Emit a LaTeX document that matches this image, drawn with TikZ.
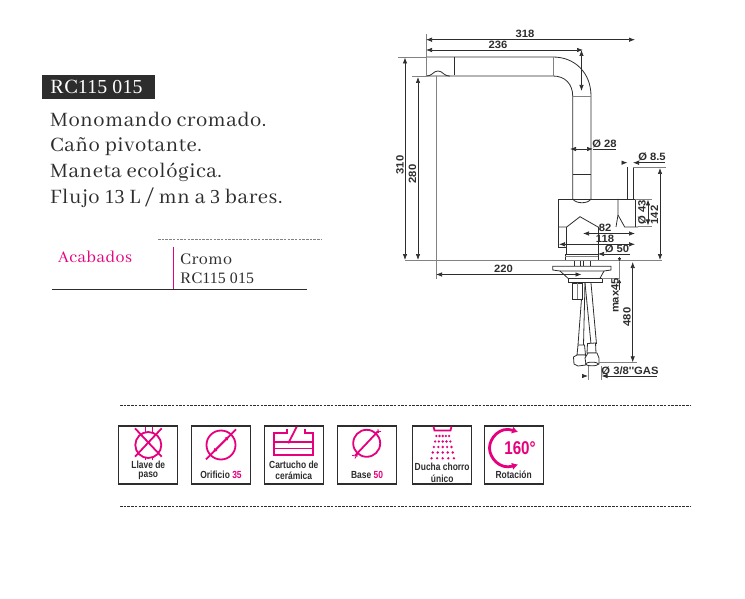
\documentclass[tikz,border=0pt]{standalone}
\usepackage{fontspec}
\usetikzlibrary{arrows.meta}
\setmainfont{Abhaya Libre}
\newfontfamily\bodyf[LetterSpace=2.5]{Abhaya Libre}
\newfontfamily\digf[LetterSpace=1,Scale=0.88]{Liberation Serif}
\newcommand{\dgt}[1]{{\digf #1}}
\newfontfamily\dimf[FakeStretch=1.06]{Liberation Sans}
\newfontfamily\iconf[FakeStretch=0.82]{Liberation Sans}
\definecolor{pinkc}{RGB}{230,0,126}
\definecolor{inkc}{RGB}{45,45,45}
\definecolor{greyc}{RGB}{130,130,130}
\tikzset{
  part/.style={draw=inkc,line width=0.8pt},
  thick part/.style={draw=inkc,line width=1.2pt},
  extline/.style={draw=greyc,line width=0.5pt},
  dimline/.style={draw=inkc,line width=0.7pt,{Latex[length=6pt,width=4.5pt]}-{Latex[length=6pt,width=4.5pt]}},
  dimto/.style={draw=inkc,line width=0.7pt,-{Latex[length=6pt,width=4.5pt]}},
  dimtext/.style={font=\dimf\bfseries\fontsize{10.6}{12}\selectfont,text=inkc,inner sep=0pt},
  bodytext/.style={anchor=base west,inner sep=0pt,text=inkc,font=\bodyf\fontsize{22.5}{24}\selectfont},
  smalltext/.style={anchor=base west,inner sep=0pt,text=inkc,font=\bodyf\fontsize{18}{20}\selectfont},
  iconbox/.style={draw=inkc,line width=1.1pt,fill=white,minimum width=59pt,minimum height=58pt,inner sep=0pt},
  icontext/.style={font=\iconf\bfseries\fontsize{10.3}{12}\selectfont,text=inkc,inner sep=0pt,align=center},
  pinkline/.style={draw=pinkc,line width=1.8pt},
  pinkring/.style={draw=pinkc,line width=1.8pt,circle,inner sep=0pt},
  dashrule/.style={draw=inkc,line width=0.6pt,dash pattern=on 2.5pt off 1.2pt},
}
\begin{document}
\begin{tikzpicture}[x=1pt,y=-1pt]
\useasboundingbox (0,0) rectangle (745,599);
% header
\node[fill=inkc,minimum width=113pt,minimum height=24pt,inner sep=0pt] (banner) at (98.8,87) {};
\node[anchor=base west,inner sep=0pt,text=white,font=\bodyf\fontsize{22.5}{24}\selectfont] (code) at (50,94) {RC\dgt{115 015}};
\node[bodytext] (l1) at (50,126.7) {Monomando cromado.};
\node[bodytext] (l2) at (50,152) {Caño pivotante.};
\node[bodytext] (l3) at (50,178) {Maneta ecológica.};
\node[bodytext] (l4) at (50,203.5) {Flujo \dgt{13} L / mn a \dgt{3} bares.};
% finish table
\draw[draw=greyc,line width=0.6pt,dash pattern=on 2.5pt off 1.2pt] (158,239.5) -- (322,239.5);
\node[smalltext,text=pinkc] (acab) at (58,262) {Acabados};
\node[smalltext] (cromo) at (180,264) {Cromo};
\node[smalltext] (rc) at (180,283) {RC\dgt{115 015}};
\draw[draw=pinkc,line width=0.5pt] (173.5,247) -- (173.5,289.5);
\draw[draw=inkc,line width=0.9pt] (52,289.5) -- (307,289.5);
% faucet spout
\draw[part] (426,57) -- (553,57) .. controls (575,57) and (591,73) .. (591,96) -- (591,199);
\draw[part] (426,76) -- (553,76) .. controls (565,76) and (572.7,84) .. (572.7,96) -- (572.7,199);
\draw[thick part] (454.7,57) -- (454.7,75.5);
\draw[extline] (553,57) -- (553,76);
\draw[extline] (572.7,96) -- (591,96);
\draw[thick part] (572.7,174.3) -- (591,174.3);
\draw[part] (426,76) .. controls (433,76) and (433,71) .. (438,71) .. controls (443,71) and (443,76) .. (450,76);
\draw[part] (572.7,199) .. controls (576,204) and (588,204) .. (591,199);
% lever & body
\draw[part] (627.5,167) -- (627.5,199) (633,167) -- (633,199);
\draw[part] (558.3,247) -- (558.3,199) -- (635,199) -- (635,227);
\draw[part] (618,199) -- (618,215) -- (624.7,227) -- (638,227);
\draw[part] (618,215) -- (616,227);
\draw[part] (558.3,227) -- (566.7,227) -- (580,216.7) -- (598,227) -- (600,227);
\draw[part] (566.7,227) -- (566.7,254) (598,227) -- (598,254);
\draw[part] (558.3,247) -- (566.7,247);
\draw[part,fill=white] (565,254.3) rectangle (598,260.7);
\draw[extline] (565,256) -- (598,256);
% deck & plate
\draw[extline,line width=0.8pt] (405,260.8) -- (662,260.8);
\draw[part] (574,261) -- (574,266.3) (580,261) -- (580,266.3) (583,261) -- (583,266.3) (590,261) -- (590,266.3);
\draw[part] (552.7,266.3) -- (611,266.3) -- (611,270) -- (604,271) -- (560,271) -- (552.7,270) -- cycle;
\draw[part] (560,271) -- (568,278.3) (604,271) -- (600,278.3);
\draw[part] (568,278.3) rectangle (602.7,282.7);
\draw[part,fill=white] (572.5,283) rectangle (582.7,299.3);
\draw[extline] (577,283) -- (577,299) (602,278) -- (620,278);
% hoses
\draw[part] (581.5,299) -- (578,345) (585,283) -- (583.5,345);
\draw[part] (585,283) -- (591,344) (591,283) -- (596.5,344);
\draw[part,fill=white] (578,345) -- (584.5,345) -- (585.5,355) -- (577,355) -- cycle;
\draw[part,fill=white] (573.5,357) -- (577,355) -- (585,355) -- (587,358) -- (586,365) -- (578,366) -- (574,364) -- cycle;
\draw[part,fill=white] (587.5,343.5) -- (595.5,343) -- (596,353) -- (587,353) -- cycle;
\draw[part,fill=white] (585,358) -- (588,353) -- (597,353) -- (599,358) -- (599,364) -- (592,365.5) -- (586,364.5) -- cycle;
\draw[part,fill=white] (592,364) ellipse [x radius=6.5pt,y radius=1.8pt];
% extension lines
\draw[extline] (426,34) -- (426,76);
\draw[extline] (398,57) -- (426,57) (412,76) -- (426,76);
\draw[extline] (436,76) -- (436,279);
\draw[extline] (633,167) -- (666,167);
\draw[extline] (635,199) -- (652,199) (638,226) -- (652,226);
\draw[extline] (598,260) -- (620,260);
\draw[extline] (599,362.3) -- (637,362.3);
\draw[extline] (588,366) -- (588,380) (601.5,366) -- (601.5,380);
% dimensions
\coordinate (a1) at (426,39.7); \coordinate (a2) at (635,39.7);
\draw[dimline] (a1) -- (a2);
\node[dimtext] (d318) at (525,34) {318};
\coordinate (b1) at (426,50); \coordinate (b2) at (583,50);
\draw[dimline] (b1) -- (b2);
\node[dimtext] (d236) at (498,44.5) {236};
\coordinate (b3) at (581.5,50); \coordinate (b4) at (581.5,91);
\draw[dimline] (b3) -- (b4);
\coordinate (c1) at (405,57.5); \coordinate (c2) at (405,260);
\draw[dimline] (c1) -- (c2);
\node[dimtext,rotate=90] (d310) at (400,165) {310};
\coordinate (e1) at (418,77); \coordinate (e2) at (418,260);
\draw[dimline] (e1) -- (e2);
\node[dimtext,rotate=90] (d280) at (412.5,174) {280};
\coordinate (f1) at (570,149); \coordinate (f2) at (593,149); \coordinate (f3) at (616,149);
\draw[dimline] (f1) -- (f2); \draw[draw=inkc,line width=0.6pt] (f2) -- (f3);
\node[dimtext] (d28) at (604.5,143.5) {Ø 28};
\coordinate (g1) at (623,162.7); \coordinate (g2) at (627.5,162.7); \coordinate (g3) at (637,162.7); \coordinate (g4) at (633,162.7); \coordinate (g5) at (665,162.7);
\draw[dimto] (g1) -- (g2); \draw[dimto] (g3) -- (g4); \draw[draw=inkc,line width=0.6pt] (g3) -- (g5);
\node[dimtext] (d85) at (652,157) {Ø 8.5};
\coordinate (h1) at (660,168); \coordinate (h2) at (660,260);
\draw[dimline] (h1) -- (h2);
\node[dimtext,rotate=90] (d142) at (654.5,215) {142};
\coordinate (i1) at (648,199.5); \coordinate (i2) at (648,225.5);
\draw[dimline] (i1) -- (i2);
\node[dimtext,rotate=90] (d43) at (642,212) {Ø 43};
\coordinate (j1) at (583,233.5); \coordinate (j2) at (635,233.5);
\draw[dimline] (j1) -- (j2);
\node[dimtext] (d82) at (605,227.5) {82};
\coordinate (k1) at (559,244.3); \coordinate (k2) at (635,244.3);
\draw[dimline] (k1) -- (k2);
\node[dimtext] (d118) at (605,238.5) {118};
\coordinate (m1) at (630,254); \coordinate (m2) at (598,254);
\draw[dimto] (m1) -- (m2);
\node[dimtext] (d50) at (617,248.5) {Ø 50};
\coordinate (n1) at (436,274.5); \coordinate (n2) at (581.5,274.5);
\draw[dimline] (n1) -- (n2);
\node[dimtext] (d220) at (503.5,268.5) {220};
\coordinate (o1) at (619.5,257); \coordinate (o2) at (619.5,262); \coordinate (o3) at (619.5,290); \coordinate (o4) at (619.5,279);
\draw[dimto,-{Latex[length=4pt,width=3.5pt]}] (o1) -- (o2);
\draw[dimto,-{Latex[length=4pt,width=3.5pt]}] (o3) -- (o4);
\draw[extline] (o2) -- (o4);
\node[dimtext,rotate=90] (dmax) at (615,295.5) {max45};
\coordinate (p1) at (632.7,262); \coordinate (p2) at (632.7,362.3);
\draw[dimline] (p1) -- (p2);
\node[dimtext,rotate=90] (d480) at (627,317) {480};
\coordinate (q1) at (583,376); \coordinate (q2) at (588,376); \coordinate (q3) at (606,376); \coordinate (q4) at (601.5,376); \coordinate (q5) at (657,376);
\draw[dimto] (q1) -- (q2); \draw[dimto] (q3) -- (q4); \draw[draw=inkc,line width=0.6pt] (q3) -- (q5);
\node[dimtext] (dgas) at (630,370.5) {Ø 3/8''GAS};
% rules round the icons
\draw[dashrule] (120,405.5) -- (690,405.5);
\draw[dashrule] (120,506.5) -- (690,506.5);
% icon 1
\node[iconbox] (box1) at (148,455) {};
\node[pinkring,minimum size=26pt] (ring1) at (148.3,445) {};
\draw[pinkline] (135,428.3) -- (161.7,456.7) (161.7,428.3) -- (135,456.7);
\draw[pinkline,line width=1pt] (145,426.5) -- (145,431.5) (152,426.5) -- (152,431.5) (145,458) -- (145,460) (152,458) -- (152,460);
\node[icontext] (t1a) at (148.3,464.5) {Llave de};
\node[icontext] (t1b) at (148.3,476) {paso};
% icon 2
\node[iconbox] (box2) at (221,455) {};
\node[pinkring,minimum size=29pt] (ring2) at (221,445) {};
\coordinate (s1) at (206,459.3); \coordinate (s2) at (236,429.3);
\draw[pinkline] (s1) -- (s2);
\coordinate (s3) at (213,452.3); \coordinate (s4) at (229,436.3);
\draw[pinkline,{Latex[length=4pt,width=4.5pt]}-{Latex[length=4pt,width=4.5pt]}] (s3) -- (s4);
\node[icontext] (t2) at (221,475) {Orificio \textcolor{pinkc}{35}};
% icon 3
\node[iconbox] (box3) at (293.8,455) {};
\draw[pinkline] (286.7,429) -- (286.7,433.3) -- (274.3,433.3) -- (274.3,455) -- (313.3,455) -- (313.3,433.3) -- (305,433.3) -- (305,429);
\draw[pinkline] (274.3,442) -- (313.3,442);
\draw[pinkline] (274.3,448.5) -- (313.3,448.5);
\draw[pinkline] (296.7,426.7) -- (288.3,443.3);
\node[icontext] (t3a) at (293.8,464.5) {Cartucho de};
\node[icontext] (t3b) at (293.8,476) {cerámica};
% icon 4
\node[iconbox] (box4) at (367,455) {};
\node[pinkring,minimum size=27pt] (ring4) at (366.7,443.3) {};
\draw[pinkline] (355,455.7) -- (378.3,431);
\draw[pinkline,line width=0.8pt] (352,455.5) -- (358,456) (358,453) -- (355,458.5) (376,432) -- (381,431.5) (378,429) -- (378.5,433);
\node[icontext] (t4) at (367,475) {Base \textcolor{pinkc}{50}};
% icon 5
\node[iconbox] (box5) at (442.2,455) {};
\draw[pinkline] (433.5,426.5) -- (434.5,430.5) -- (450.5,430.5) -- (451.5,426.5);
\foreach \yy/\sp in {436/3.2,441.5/3.8,447/4.4,452.5/5,458.3/5.6}{
  \foreach \k in {-2,-1,0,1,2}{
    \fill[pinkc] ({442.7+\k*\sp},\yy) circle[radius=1.3pt];
  }
}
\node[icontext] (t5a) at (442.2,467) {Ducha chorro};
\node[icontext] (t5b) at (442.2,478.5) {único};
% icon 6
\node[iconbox] (box6) at (513.7,455) {};
\coordinate (u1) at (518,432); \coordinate (u2) at (518,464.5);
\draw[draw=pinkc,line width=2.8pt,{Latex[length=6pt,width=7.5pt]}-{Latex[length=6pt,width=7.5pt]}] (u1) .. controls (500,426) and (489.5,438) .. (489.5,448) .. controls (489.5,458) and (500,470) .. (u2);
\node[inner sep=0pt,text=pinkc,font=\iconf\bfseries\fontsize{18.5}{18}\selectfont] (t6a) at (520,448) {160°};
\node[icontext] (t6b) at (513.7,474.5) {Rotación};
\end{tikzpicture}
\end{document}
